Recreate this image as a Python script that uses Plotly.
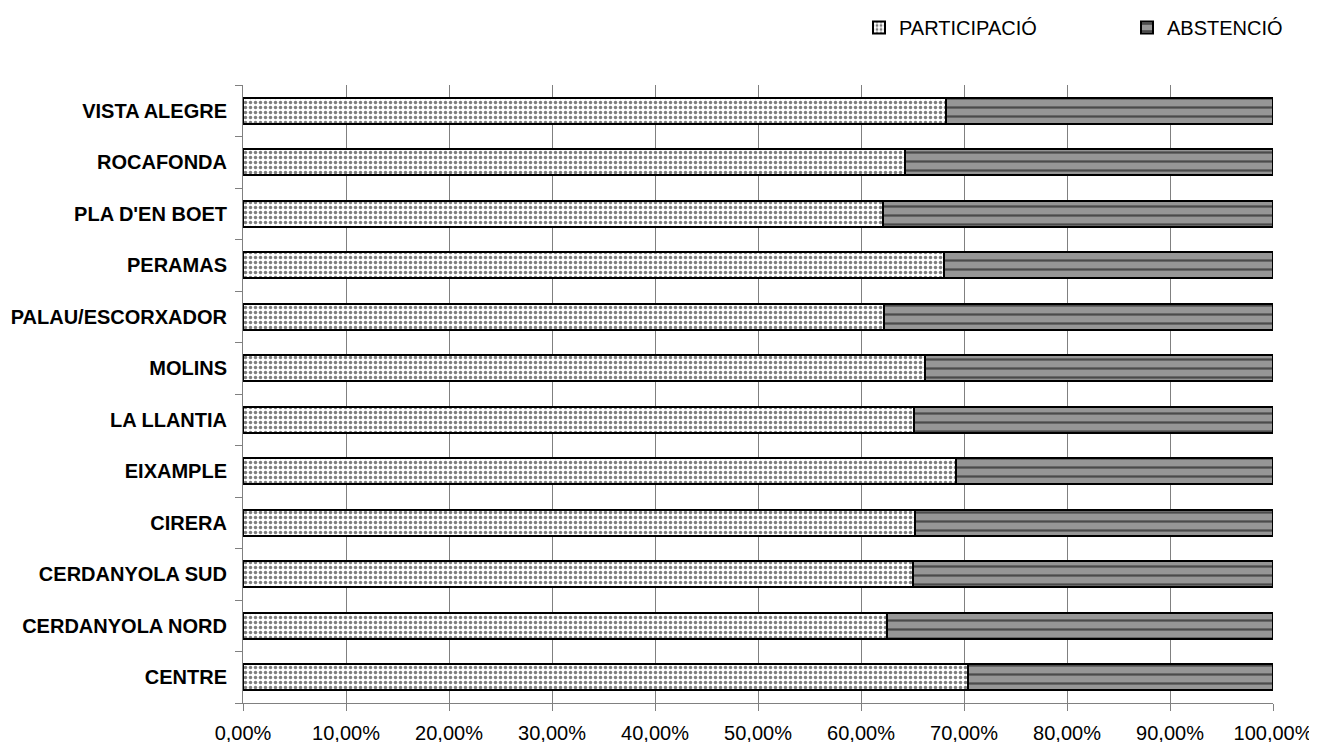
import plotly.graph_objects as go

# -- Data --
barris = ["CENTRE", "CERDANYOLA NORD", "CERDANYOLA SUD", "CIRERA", "EIXAMPLE",
          "LA LLANTIA", "MOLINS", "PALAU/ESCORXADOR", "PERAMAS", "PLA D'EN BOET",
          "ROCAFONDA", "VISTA ALEGRE"]
participacio = [0.704, 0.625, 0.650, 0.652, 0.692, 0.651, 0.662, 0.622, 0.681, 0.621, 0.643, 0.683]
abstencio = [1 - p for p in participacio]

FONT = "Liberation Sans, Arial, sans-serif"

fig = go.Figure()
fig.add_trace(go.Bar(
   y=barris, x=participacio, orientation="h", name="PARTICIPACIÓ", width=0.5,
   marker=dict(color="white", line=dict(color="black", width=2),
               pattern=dict(shape=".", fgcolor="black", bgcolor="white", size=5, solidity=0.38)),
))
fig.add_trace(go.Bar(
   y=barris, x=abstencio, orientation="h", name="ABSTENCIÓ", width=0.5,
   marker=dict(color="#969696", line=dict(color="black", width=2),
               pattern=dict(shape="-", fgcolor="black", bgcolor="#969696", size=9, solidity=0.25)),
))

# page body has an 8px margin, so margins are shifted by that amount
fig.update_layout(
   barmode="stack",
   width=1317, height=742,
   margin=dict(l=235, r=52, t=77, b=47),
   paper_bgcolor="white", plot_bgcolor="white",
   font=dict(family=FONT, size=20, color="black"),
   separators=",.",
   legend=dict(orientation="h", xref="container", x=(859 - 8) / 1317, xanchor="left",
               yref="container", y=1.0, yanchor="top",
               entrywidth=223, font=dict(size=20), traceorder="normal"),
   xaxis=dict(range=[0, 1], tickformat=".2%", dtick=0.1, showgrid=True, gridcolor="#808080",
              gridwidth=1, showline=True, linecolor="#808080", ticks="outside", ticklen=7,
              tickcolor="#808080", zeroline=False, tickfont=dict(size=20),
              ticklabelstandoff=5, automargin=False),
   yaxis=dict(showline=True, linecolor="#808080", ticks="outside", ticklen=7, tickcolor="#808080",
              tickson="boundaries", tickfont=dict(size=20, family=FONT), automargin=False,
              categoryorder="array", categoryarray=barris, ticklabelstandoff=11),
)
fig.update_yaxes(ticktext=[f"<b>{b}</b>" for b in barris], tickvals=barris)

fig.write_html("out.html")
